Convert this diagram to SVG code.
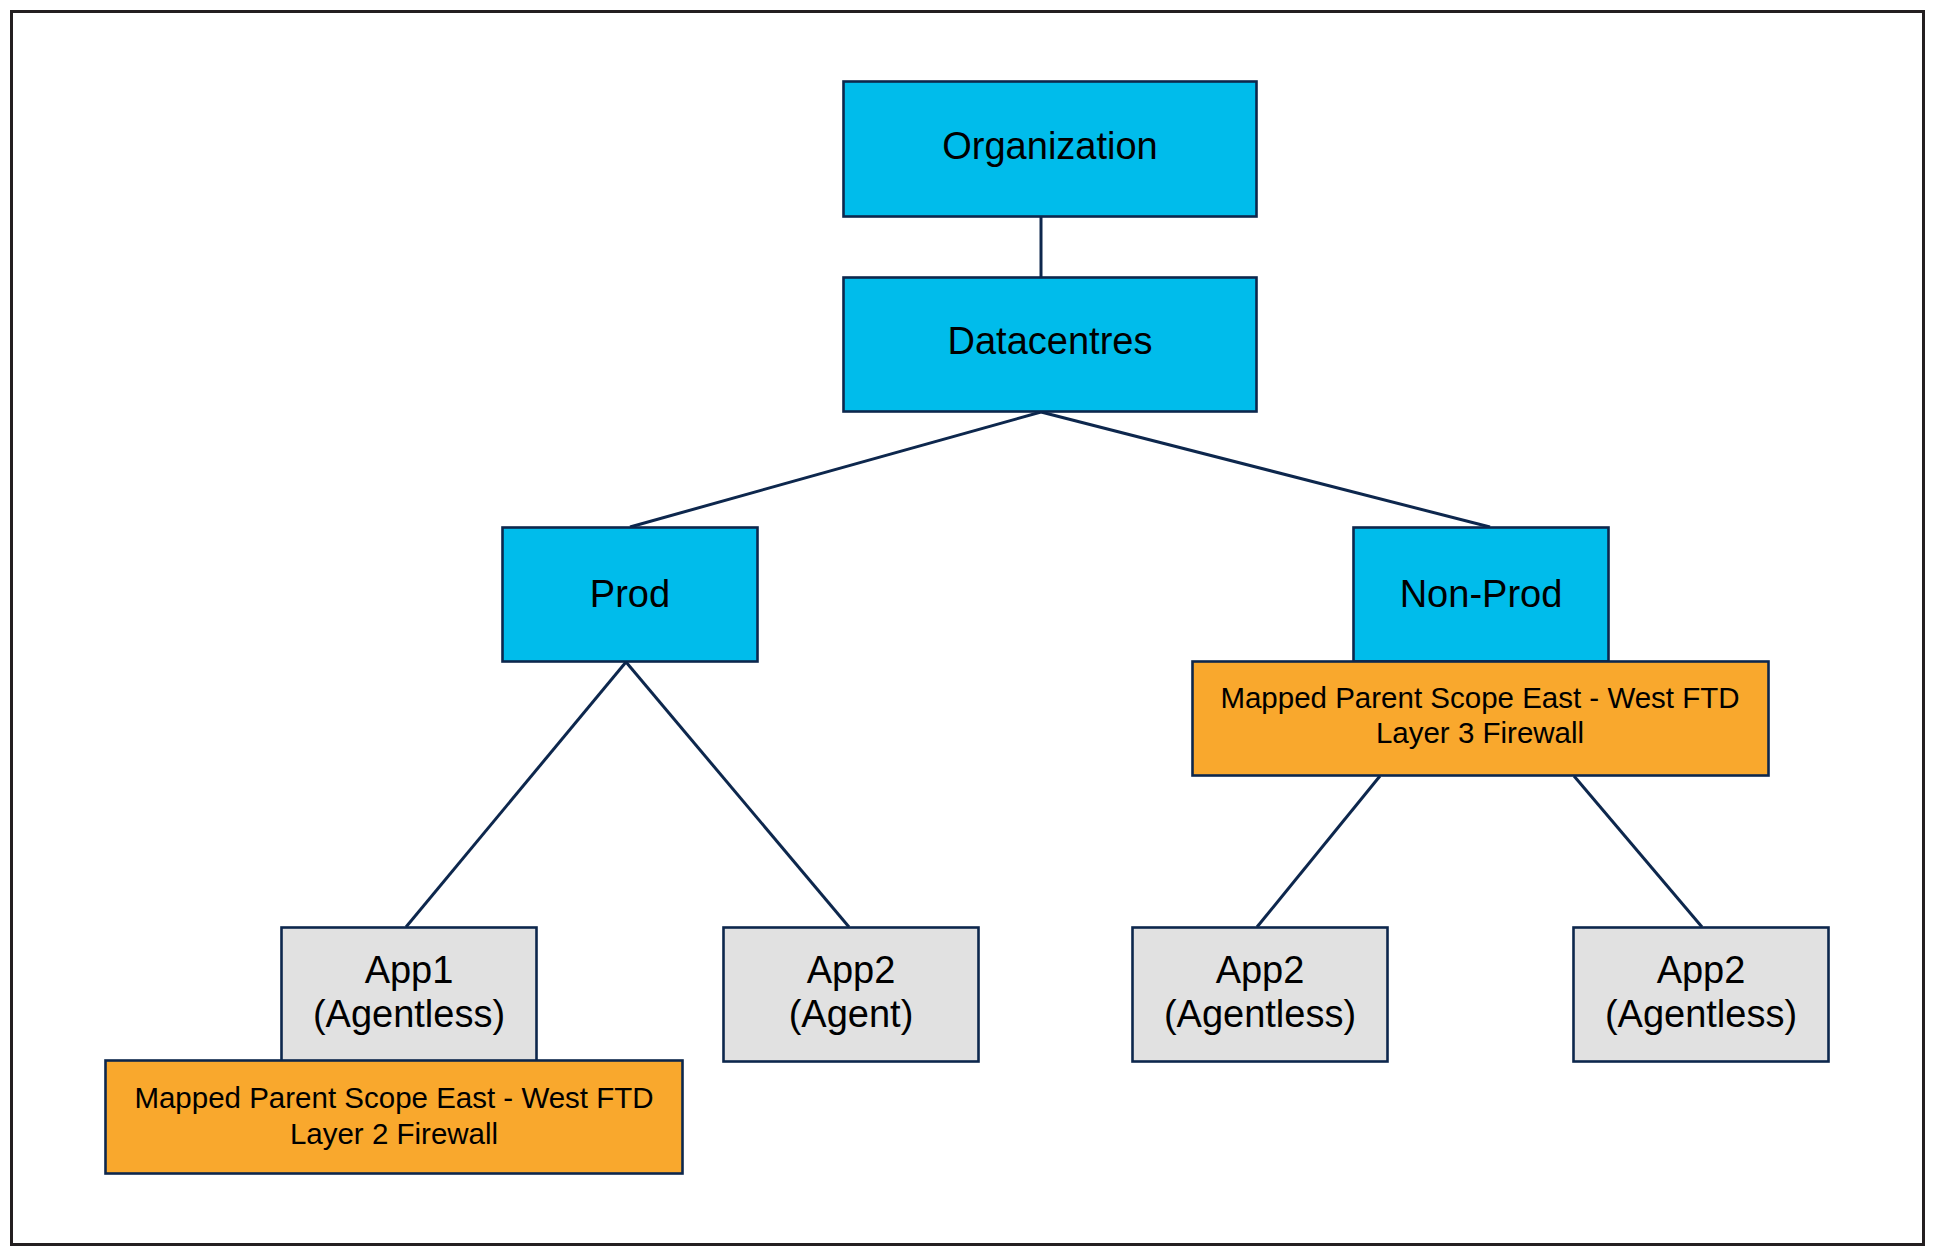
<svg xmlns="http://www.w3.org/2000/svg" width="1935" height="1258" viewBox="0 0 1935 1258">
<style>
.bg{fill:#ffffff}
.frame{fill:none;stroke:#231f20;stroke-width:3}
.blue{fill:#00bceb;stroke:#0d274d;stroke-width:2.6}
.gray{fill:#e1e1e1;stroke:#0d274d;stroke-width:2.6}
.orange{fill:#f9a82d;stroke:#0d274d;stroke-width:2.6}
.lbl{font-family:"Liberation Sans",Arial,sans-serif;font-size:38px;fill:#000000;text-anchor:middle}
.sm{font-family:"Liberation Sans",Arial,sans-serif;font-size:29.5px;fill:#000000;text-anchor:middle}
.conn line{stroke:#0d274d;stroke-width:3;fill:none}
</style>
<rect class="bg" x="0" y="0" width="1935" height="1258"/>
<rect class="frame" x="11.5" y="11.5" width="1912" height="1233"/>
<g id="connectors" class="conn">
<line x1="1041" y1="217" x2="1041" y2="277"/>
<line x1="1041" y1="412" x2="630" y2="527"/>
<line x1="1041" y1="412" x2="1490" y2="527"/>
<line x1="626" y1="662" x2="406" y2="927"/>
<line x1="626" y1="662" x2="849" y2="927"/>
<line x1="1380" y1="776" x2="1257" y2="927"/>
<line x1="1574" y1="776" x2="1702" y2="927"/>
</g>
<g id="organization">
<rect class="blue" x="843.5" y="81.5" width="413" height="135"/>
<text class="lbl" x="1050" y="159">Organization</text>
</g>
<g id="datacentres">
<rect class="blue" x="843.5" y="277.5" width="413" height="134"/>
<text class="lbl" x="1050" y="354">Datacentres</text>
</g>
<g id="prod">
<rect class="blue" x="502.5" y="527.5" width="255" height="134"/>
<text class="lbl" x="630" y="607">Prod</text>
</g>
<g id="nonprod">
<rect class="blue" x="1353.5" y="527.5" width="255" height="134"/>
<text class="lbl" x="1481" y="607">Non-Prod</text>
</g>
<g id="nonprod-scope">
<rect class="orange" x="1192.5" y="661.5" width="576" height="114"/>
<text class="sm" x="1480" y="708">Mapped Parent Scope East - West FTD</text>
<text class="sm" x="1480" y="743">Layer 3 Firewall</text>
</g>
<g id="app1">
<rect class="gray" x="281.5" y="927.5" width="255" height="134"/>
<text class="lbl" x="409" y="983">App1</text>
<text class="lbl" x="409" y="1027">(Agentless)</text>
</g>
<g id="app1-scope">
<rect class="orange" x="105.5" y="1060.5" width="577" height="113"/>
<text class="sm" x="394" y="1108">Mapped Parent Scope East - West FTD</text>
<text class="sm" x="394" y="1144">Layer 2 Firewall</text>
</g>
<g id="app2-agent">
<rect class="gray" x="723.5" y="927.5" width="255" height="134"/>
<text class="lbl" x="851" y="983">App2</text>
<text class="lbl" x="851" y="1027">(Agent)</text>
</g>
<g id="app2-agentless-1">
<rect class="gray" x="1132.5" y="927.5" width="255" height="134"/>
<text class="lbl" x="1260" y="983">App2</text>
<text class="lbl" x="1260" y="1027">(Agentless)</text>
</g>
<g id="app2-agentless-2">
<rect class="gray" x="1573.5" y="927.5" width="255" height="134"/>
<text class="lbl" x="1701" y="983">App2</text>
<text class="lbl" x="1701" y="1027">(Agentless)</text>
</g>
</svg>
